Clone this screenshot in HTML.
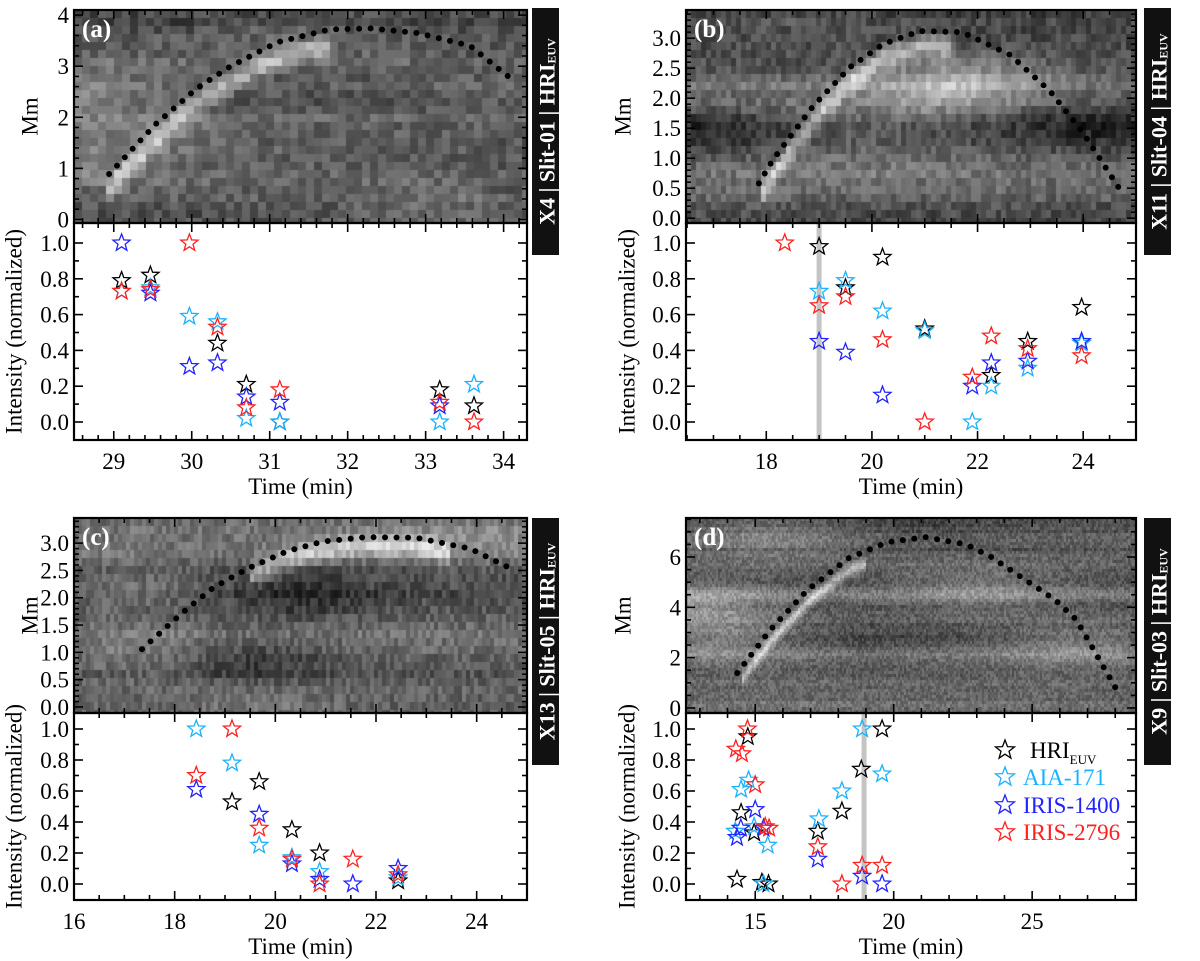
<!DOCTYPE html>
<html><head><meta charset="utf-8">
<style>
html,body{margin:0;padding:0;background:#fff;}
#wrap{position:relative;width:1200px;height:961px;overflow:hidden;font-family:"Liberation Serif","Times New Roman","Nimbus Roman","FreeSerif","DejaVu Serif",serif;}
canvas{position:absolute;}
svg{position:absolute;left:0;top:0;}
svg text{font-family:"Liberation Serif","Times New Roman","Nimbus Roman","FreeSerif","DejaVu Serif",serif;}
</style></head>
<body>
<div id="wrap">
<canvas id="imgA"></canvas>
<canvas id="imgB"></canvas>
<canvas id="imgC"></canvas>
<canvas id="imgD"></canvas>
<svg id="fig" width="1200" height="961" xmlns="http://www.w3.org/2000/svg"></svg>
</div>
<script>
// ---------- DATA ----------
const aTimes=[29.1,29.47,29.97,30.33,30.7,31.13,33.18,33.62];
const aHRI  =[0.79,0.82,null,0.44,0.21,0.0,0.18,0.09];
const aAIA  =[0.73,0.75,0.59,0.56,0.02,0.0,0.0,0.21];
const aI1400=[1.0,0.72,0.31,0.33,0.14,0.11,0.09,null];
const aI2796=[0.73,0.74,1.0,0.53,0.08,0.18,0.11,0.0];
const bTimes=[18.35,19.0,19.5,20.2,21.0,21.9,22.26,22.95,23.97];
const bHRI  =[null,0.98,0.75,0.92,0.52,null,0.26,0.45,0.64];
const bAIA  =[null,0.73,0.79,0.62,0.51,0.0,0.2,0.3,0.44];
const bI1400=[null,0.45,0.39,0.15,null,0.2,0.33,0.34,0.45];
const bI2796=[1.0,0.65,0.70,0.46,0.0,0.25,0.48,0.41,0.37];
const cTimes=[18.43,19.14,19.68,20.33,20.88,21.54,22.44];
const cHRI  =[null,0.53,0.66,0.35,0.2,null,0.02];
const cAIA  =[1.0,0.78,0.25,0.17,0.08,null,0.04];
const cI1400=[0.61,null,0.45,0.13,0.03,0.0,0.1];
const cI2796=[0.70,1.0,0.36,0.16,0.0,0.16,0.06];
const dHRI_t=[14.73,14.49,14.96,14.34,15.24,15.48,17.26,18.13,18.83,19.58];
const dHRI_v=[0.95,0.46,0.33,0.03,0.01,0.0,0.34,0.47,0.74,1.0];
const dAIA_t=[14.76,14.49,14.28,14.96,15.45,15.3,17.3,18.13,18.86,19.58];
const dAIA_v=[0.67,0.61,0.34,0.37,0.25,0.0,0.42,0.60,1.0,0.71];
const dI1400_t=[15.0,14.48,14.34,15.3,17.26,18.86,19.58];
const dI1400_v=[0.48,0.36,0.30,0.36,0.16,0.05,0.0];
const dI2796_t=[14.72,14.3,14.52,15.0,15.36,15.5,17.26,18.13,18.86,19.58];
const dI2796_v=[1.0,0.87,0.84,0.64,0.37,0.36,0.24,0.0,0.12,0.12];
const aCurveT=[28.94,29.54,30.06,30.49,31.1,31.77,32.3,32.9,33.57,34.14];
const aCurveM=[0.89,1.87,2.56,2.99,3.47,3.72,3.74,3.65,3.4,2.7];
const bCurveT=[17.86,18.13,18.89,19.59,20.21,20.91,21.71,22.62,23.37,24.0,24.7];
const bCurveM=[0.58,0.98,1.87,2.52,2.9,3.12,3.1,2.72,2.12,1.42,0.47];
const cCurveT=[17.35,18.15,18.76,19.46,20.23,20.95,21.79,22.8,23.87,24.67];
const cCurveM=[1.06,1.72,2.18,2.54,2.85,3.03,3.11,3.1,2.9,2.54];
const dCurveT=[14.35,15.54,16.88,18.36,19.77,21.14,22.62,23.52,25.83,26.6,28.1];
const dCurveM=[1.39,3.1,4.68,5.95,6.59,6.79,6.5,6.0,4.3,3.5,0.63];
const bMarker=[19.0];
const dMarker=[18.93];
const aXTicks=[29,30,31,32,33,34];
const bXTicks=[18,20,22,24];
const cXTicks=[16,18,20,22,24];
const dXTicks=[15,20,25];
const intTicks=[0.0,0.2,0.4,0.6,0.8,1.0];
const aMmTicks=[0,1,2,3,4];
const bMmTicks=[0.0,0.5,1.0,1.5,2.0,2.5,3.0];
const cMmTicks=[0.0,0.5,1.0,1.5,2.0,2.5,3.0];
const dMmTicks=[0,2,4,6];
const legendLabels=['HRI','AIA-171','IRIS-1400','IRIS-2796'];

const COLORS=['#000000','#1ab2ff','#2222ff','#ff2020'];
const FONT='Liberation Serif, Times New Roman, Nimbus Roman, FreeSerif, DejaVu Serif, serif';
const NS='http://www.w3.org/2000/svg';
const svg=document.getElementById('fig');
function el(tag,attrs,parent){const e=document.createElementNS(NS,tag);for(const k in attrs)e.setAttribute(k,attrs[k]);(parent||svg).appendChild(e);return e;}

const P={
 a:{x0:74,x1:527,t0:28.49,t1:34.3,iy0:10,iy1:223,m0:-0.07,m1:4.1,py0:223,py1:440,v0y:422,vs:179,box:[532,8,27,247],
    xt:aXTicks,xmin:0.2,mt:aMmTicks,mmin:0.2,mdec:0,lab:'(a)',side:['X4','Slit-01'],seed:11,cell:[8,8],curveT:aCurveT,curveM:aCurveM,bandOff:-0.3,bandW:0.2,bandT:[28.9,31.8],mmX:30,intX:14},
 b:{x0:686,x1:1136,t0:16.48,t1:25.0,iy0:10,iy1:223,m0:-0.08,m1:3.47,py0:223,py1:440,v0y:422,vs:179,box:[1144,8,27,247],
    xt:bXTicks,xmin:0.5,mt:bMmTicks,mmin:0.1,mdec:1,lab:'(b)',side:['X11','Slit-04'],seed:23,cell:[5,8],curveT:bCurveT,curveM:bCurveM,bandOff:-0.25,bandW:0.18,bandT:[17.8,21.5],mmX:623,intX:627},
 c:{x0:74,x1:527,t0:16,t1:25,iy0:518,iy1:713,m0:-0.11,m1:3.46,py0:713,py1:900,v0y:884,vs:155,box:[532,518,27,247],
    xt:cXTicks,xmin:0.5,mt:cMmTicks,mmin:0.1,mdec:1,lab:'(c)',side:['X13','Slit-05'],seed:37,cell:[4,8],curveT:cCurveT,curveM:cCurveM,bandOff:-0.15,bandW:0.18,bandT:[19.5,23.5],mmX:30,intX:14},
 d:{x0:686,x1:1136,t0:12.5,t1:28.75,iy0:518,iy1:713,m0:-0.2,m1:7.55,py0:713,py1:900,v0y:884,vs:155,box:[1144,518,27,247],
    xt:dXTicks,xmin:1,mt:dMmTicks,mmin:0.5,mdec:0,lab:'(d)',side:['X9','Slit-03'],seed:53,cell:[2,3],curveT:dCurveT,curveM:dCurveM,bandOff:-0.5,bandW:0.25,bandT:[14.5,19],mmX:623,intX:627}
};
function xs(p,t){return p.x0+(t-p.t0)/(p.t1-p.t0)*(p.x1-p.x0);}
function ym(p,m){return p.iy1-(m-p.m0)/(p.m1-p.m0)*(p.iy1-p.iy0);}
function yv(p,v){return p.v0y-v*p.vs;}
function fmt(v,d){return v.toFixed(d);}
function interp(T,M,t){
  if(t<T[0]||t>T[T.length-1])return null;
  for(let i=0;i<T.length-1;i++){if(t>=T[i]&&t<=T[i+1]){const f=(t-T[i])/(T[i+1]-T[i]);return M[i]+f*(M[i+1]-M[i]);}}
  return null;
}
function rng(seed){let s=seed;return ()=>{s=(s*16807)%2147483647;return (s-1)/2147483646;};}
function drawTexture(id,p){
  const cv=document.getElementById(id);
  const w=p.x1-p.x0,h=p.iy1-p.iy0;
  cv.width=w;cv.height=h;cv.style.left=p.x0+'px';cv.style.top=p.iy0+'px';
  const ctx=cv.getContext('2d');const r=rng(p.seed);
  const [cw,ch]=p.cell;const nr=Math.ceil(h/ch),nc=Math.ceil(w/cw);
  const rowV=[];for(let i=0;i<nr;i++)rowV.push(r());
  const rowS=rowV.map((v,i)=>{let s=0,n=0;for(let k=-2;k<=2;k++){const j=i+k;if(j>=0&&j<nr){s+=rowV[j];n++;}}return s/n;});
  const blobs=[];for(let k=0;k<8;k++)blobs.push([r(),r(),(r()-0.5)*0.5]);
  for(let i=0;i<nr;i++){
    for(let j=0;j<nc;j++){
      const px=p.x0+j*cw+cw/2,py=p.iy0+i*ch+ch/2;
      const u=(px-p.x0)/w,vv=(py-p.iy0)/h;
      const t=p.t0+u*(p.t1-p.t0);
      const m=p.m1-vv*(p.m1-p.m0);
      let g=0.42+(rowS[i]-0.5)*0.45+(r()-0.5)*0.22;
      blobs.forEach(b=>{const dx=(u-b[0])/0.18,dy=(vv-b[1])/0.12;g+=b[2]*Math.exp(-dx*dx-dy*dy);});
      const cm=interp(p.curveT,p.curveM,t);
      if(cm!==null&&t>=p.bandT[0]&&t<=p.bandT[1]){const dd=(m-(cm+p.bandOff))/p.bandW;g+=0.38*Math.exp(-dd*dd);}
      g=Math.max(0.02,Math.min(1,g));
      const c=Math.round(g*235);
      ctx.fillStyle='rgb('+c+','+c+','+c+')';
      ctx.fillRect(j*cw,i*ch,cw,ch);
    }
  }
}
drawTexture('imgA',P.a);drawTexture('imgB',P.b);drawTexture('imgC',P.c);drawTexture('imgD',P.d);

function starPath(cx,cy,R){let d='';const ri=R*0.42;for(let k=0;k<10;k++){const a=-Math.PI/2+k*Math.PI/5;const rr=k%2?ri:R;d+=(k?'L':'M')+(cx+rr*Math.cos(a)).toFixed(1)+' '+(cy+rr*Math.sin(a)).toFixed(1);}return d+'Z';}

function drawPanel(key,series){
  const p=P[key];
  const g=el('g',{});
  
  
  const mk=key==='b'?bMarker:key==='d'?dMarker:[];
  mk.forEach(t=>{const l=el('rect',{x:xs(p,t)-2.5,y:p.py0,width:5,height:p.py1-p.py0,fill:'#c4c4c4'},g);
    });
  let d='';
  p.curveT.forEach((t,i)=>{d+=(i?'L':'M')+xs(p,t).toFixed(1)+' '+ym(p,p.curveM[i]).toFixed(1);});
  const cu=el('path',{d:d,fill:'none',stroke:'#000','stroke-width':6,'stroke-linecap':'round','stroke-dasharray':'0 11.5'},g);
  
  el('rect',{x:p.x0,y:p.iy0,width:p.x1-p.x0,height:p.iy1-p.iy0,fill:'none',stroke:'#000','stroke-width':2.2},g);
  el('rect',{x:p.x0,y:p.py0,width:p.x1-p.x0,height:p.py1-p.py0,fill:'none',stroke:'#000','stroke-width':2.2},g);
  const tk=el('g',{stroke:'#000','stroke-width':1.6},g);
  
  const major=p.xt[1]!==undefined?p.xt[1]-p.xt[0]:1;
  for(let t=Math.ceil(p.t0/p.xmin)*p.xmin;t<=p.t1+1e-6;t+=p.xmin){
    const x=xs(p,t);const isM=Math.abs(t/major-Math.round(t/major))<1e-6;const L=isM?9:5;
    [[p.iy0,1],[p.iy1,-1],[p.py0,1],[p.py1,-1]].forEach(([y,s])=>el('line',{x1:x,x2:x,y1:y,y2:y+s*L},tk));
  }
  const mmaj=p.mt[1]-p.mt[0];
  for(let m=Math.ceil(p.m0/p.mmin)*p.mmin;m<=p.m1+1e-6;m+=p.mmin){
    const y=ym(p,m);const isM=Math.abs(m/mmaj-Math.round(m/mmaj))<1e-6;const L=isM?9:5;
    el('line',{x1:p.x0,x2:p.x0+L,y1:y,y2:y},tk);el('line',{x1:p.x1,x2:p.x1-L,y1:y,y2:y},tk);
  }
  for(let v=-0.05;v<=1.1;v+=0.05){
    const y=yv(p,v);if(y<p.py0+1||y>p.py1-1)continue;const isM=Math.abs(v/0.2-Math.round(v/0.2))<1e-6;const L=isM?9:(Math.abs(v/0.1-Math.round(v/0.1))<1e-6?5:0);
    if(!L)continue;
    el('line',{x1:p.x0,x2:p.x0+L,y1:y,y2:y},tk);el('line',{x1:p.x1,x2:p.x1-L,y1:y,y2:y},tk);
  }
  const tl={'font-family':FONT,'font-size':23,fill:'#000'};
  p.xt.forEach(t=>{const e=el('text',Object.assign({x:xs(p,t),y:p.py1+29,'text-anchor':'middle'},tl),g);e.textContent=t;
    });
  p.mt.forEach(m=>{const e=el('text',Object.assign({x:p.x0-5,y:ym(p,m)+8,'text-anchor':'end'},tl),g);e.textContent=fmt(m,p.mdec);
    });
  intTicks.forEach(v=>{const e=el('text',Object.assign({x:p.x0-5,y:yv(p,v)+8,'text-anchor':'end'},tl),g);e.textContent=fmt(v,1);
    });
  const xt=el('text',Object.assign({x:(p.x0+p.x1)/2,y:p.py1+54,'text-anchor':'middle'},tl),g);xt.textContent='Time (min)';
  
  const my=(p.iy0+p.iy1)/2;
  const mt=el('text',Object.assign({x:p.mmX,y:my,'text-anchor':'middle',transform:'rotate(-90 '+p.mmX+' '+my+')','dominant-baseline':'central'},tl),g);mt.textContent='Mm';
  
  const iy=(p.py0+p.py1)/2;
  const it=el('text',Object.assign({x:p.intX,y:iy,'text-anchor':'middle',transform:'rotate(-90 '+p.intX+' '+iy+')','dominant-baseline':'central'},tl),g);it.textContent='Intensity (normalized)';
  
  const pl=el('text',{x:p.x0+8,y:p.iy0+27,'font-family':FONT,'font-size':25,'font-weight':'bold',fill:'#fff'},g);pl.textContent=p.lab;
  
  const [bx,by,bw,bh]=p.box;
  const sb=el('rect',{x:bx,y:by,width:bw,height:bh,fill:'#111'},g);
  
  const cx=bx+bw/2+1,cy=by+bh/2;
  const st=el('text',{x:cx,y:cy,'text-anchor':'middle','dominant-baseline':'central','font-family':FONT,'font-size':22,'font-weight':'bold',fill:'#fff',transform:'rotate(-90 '+cx+' '+cy+')'},g);
  
  const s1=el('tspan',{},st);s1.textContent=p.side[0]+'  |  '+p.side[1]+'  |  HRI';
  const s2=el('tspan',{'font-size':12,dy:5},st);s2.textContent='EUV';
  series.forEach((s,si)=>{
    s.t.forEach((t,i)=>{const v=s.v[i];if(v===null)return;
      const st=el('path',{d:starPath(xs(p,t),yv(p,v),9),fill:'none',stroke:COLORS[si],'stroke-width':1.3},g);
      
      
    });
  });
}
drawPanel('a',[{t:aTimes,v:aHRI},{t:aTimes,v:aAIA},{t:aTimes,v:aI1400},{t:aTimes,v:aI2796}]);
drawPanel('b',[{t:bTimes,v:bHRI},{t:bTimes,v:bAIA},{t:bTimes,v:bI1400},{t:bTimes,v:bI2796}]);
drawPanel('c',[{t:cTimes,v:cHRI},{t:cTimes,v:cAIA},{t:cTimes,v:cI1400},{t:cTimes,v:cI2796}]);
drawPanel('d',[{t:dHRI_t,v:dHRI_v},{t:dAIA_t,v:dAIA_v},{t:dI1400_t,v:dI1400_v},{t:dI2796_t,v:dI2796_v}]);

const lg=el('g',{});


const legY=[750,777,805,832];
legendLabels.forEach((lab,i)=>{
  const s=el('path',{d:starPath(1005,legY[i],10),fill:'none',stroke:COLORS[i],'stroke-width':1.3},lg);
  
  
  const t=el('text',{x:i===0?1030:1023,y:legY[i]+8,'font-family':FONT,'font-size':23,fill:COLORS[i]},lg);
  
  
  const a=el('tspan',{},t);a.textContent=lab;
  if(i===0){const b=el('tspan',{'font-size':13,dy:6},t);b.textContent='EUV';}
});
</script>
</body></html>
